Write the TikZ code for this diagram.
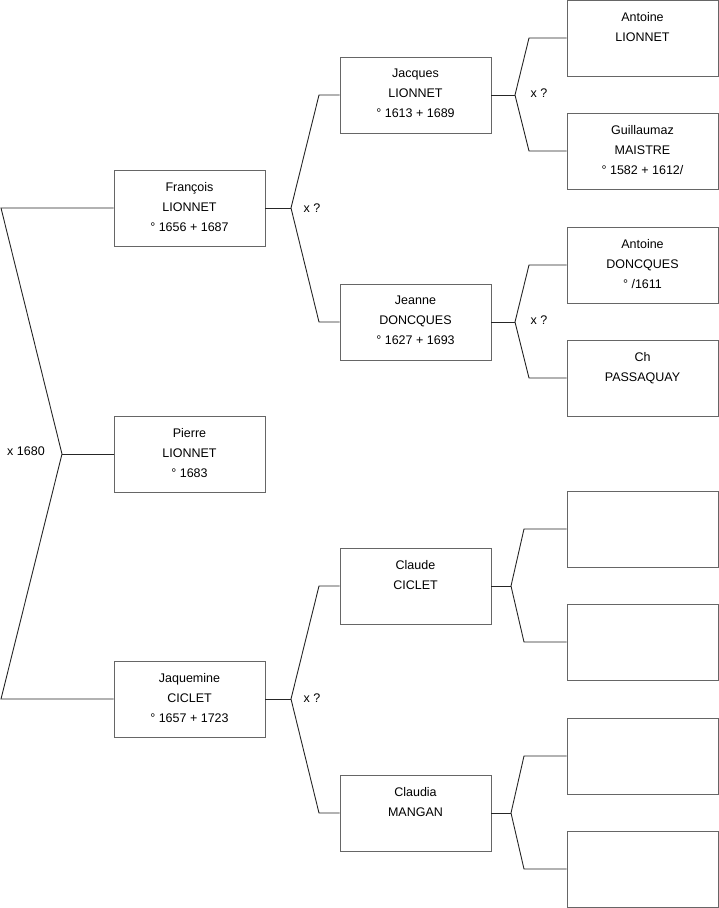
\documentclass[tikz,border=0pt]{standalone}
\usepackage{fontspec}
\setmainfont{Liberation Sans}
\begin{document}
\begin{tikzpicture}[x=1pt,y=-1pt,
  box/.style={draw=black!60,line width=0.9pt,minimum width=151pt,minimum height=76pt,inner sep=0pt,fill=white},
  txt/.style={anchor=north,align=center,inner sep=0pt,font={\fontsize{12.5}{20}\selectfont}},
  lab/.style={inner sep=0pt,font={\fontsize{12.5}{14}\selectfont}},
  conn/.style={draw=black!85,line width=0.9pt,line join=miter}]
\useasboundingbox (0,0) rectangle (719,908);
% boxes
\node[box] (fr) at (189.5,208) {};
\node[box] (pi) at (189.5,454) {};
\node[box] (jq) at (189.5,699) {};
\node[box] (ja) at (415.5,95) {};
\node[box] (je) at (415.5,322) {};
\node[box] (cl) at (415.5,586) {};
\node[box] (ca) at (415.5,813) {};
\node[box] (al) at (642.5,38) {};
\node[box] (gm) at (642.5,151) {};
\node[box] (ad) at (642.5,265) {};
\node[box] (ch) at (642.5,378) {};
\node[box] (e1) at (642.5,529) {};
\node[box] (e2) at (642.5,642) {};
\node[box] (e3) at (642.5,756) {};
\node[box] (e4) at (642.5,869) {};
% texts
\node[txt] (frt) at ([yshift=-12.5pt]fr.north) {François\\LIONNET\\° 1656 + 1687};
\node[txt] (pit) at ([yshift=-12.5pt]pi.north) {Pierre\\LIONNET\\° 1683};
\node[txt] (jqt) at ([yshift=-12.5pt]jq.north) {Jaquemine\\CICLET\\° 1657 + 1723};
\node[txt] (jat) at ([yshift=-12.5pt]ja.north) {Jacques\\LIONNET\\° 1613 + 1689};
\node[txt] (jet) at ([yshift=-12.5pt]je.north) {Jeanne\\DONCQUES\\° 1627 + 1693};
\node[txt] (clt) at ([yshift=-12.5pt]cl.north) {Claude\\CICLET};
\node[txt] (cat) at ([yshift=-12.5pt]ca.north) {Claudia\\MANGAN};
\node[txt] (alt) at ([yshift=-12.5pt]al.north) {Antoine\\LIONNET};
\node[txt] (gmt) at ([yshift=-12.5pt]gm.north) {Guillaumaz\\MAISTRE\\° 1582 + 1612/};
\node[txt] (adt) at ([yshift=-12.5pt]ad.north) {Antoine\\DONCQUES\\° /1611};
\node[txt] (cht) at ([yshift=-12.5pt]ch.north) {Ch\\PASSAQUAY};
% fork coordinates
\coordinate (L1) at (1,208);
\coordinate (L2) at (62,454);
\coordinate (L3) at (1,699);
\coordinate (F1) at (291,208);
\coordinate (F1a) at (319,95);
\coordinate (F1b) at (319,322);
\coordinate (F2) at (291,699);
\coordinate (F2a) at (319,586);
\coordinate (F2b) at (319,813);
\coordinate (G1) at (515,95);
\coordinate (G1a) at (529,38);
\coordinate (G1b) at (529,151);
\coordinate (G2) at (515,322);
\coordinate (G2a) at (529,265);
\coordinate (G2b) at (529,378);
\coordinate (G3) at (511,586);
\coordinate (G3a) at (524,529);
\coordinate (G3b) at (524,642);
\coordinate (G4) at (511,813);
\coordinate (G4a) at (524,756);
\coordinate (G4b) at (524,869);
% connectors
\draw[conn] (fr.west) -- (L1) -- (L2) -- (L3) -- (jq.west);
\draw[conn] (L2) -- (pi.west);
\draw[conn] (ja.west) -- (F1a) -- (F1) -- (F1b) -- (je.west);
\draw[conn] (fr.east) -- (F1);
\draw[conn] (cl.west) -- (F2a) -- (F2) -- (F2b) -- (ca.west);
\draw[conn] (jq.east) -- (F2);
\draw[conn] (al.west) -- (G1a) -- (G1) -- (G1b) -- (gm.west);
\draw[conn] (ja.east) -- (G1);
\draw[conn] (ad.west) -- (G2a) -- (G2) -- (G2b) -- (ch.west);
\draw[conn] (je.east) -- (G2);
\draw[conn] (e1.west) -- (G3a) -- (G3) -- (G3b) -- (e2.west);
\draw[conn] (cl.east) -- (G3);
\draw[conn] (e3.west) -- (G4a) -- (G4) -- (G4b) -- (e4.west);
\draw[conn] (ca.east) -- (G4);
% labels
\node[lab] (m0) at (26,451) {x 1680};
\node[lab] (m1) at (312,208) {x ?};
\node[lab] (m2) at (312,698) {x ?};
\node[lab] (m3) at (539,93) {x ?};
\node[lab] (m4) at (539,320) {x ?};
\end{tikzpicture}
\end{document}
